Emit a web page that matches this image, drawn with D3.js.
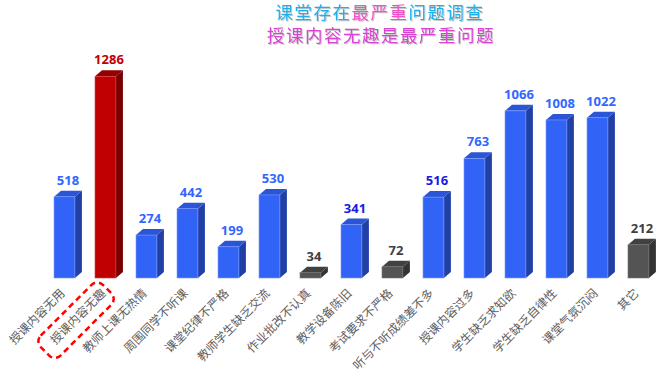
<!DOCTYPE html>
<html>
<head>
<meta charset="utf-8">
<script src="https://cdn.jsdelivr.net/npm/d3@7"></script>
<style>
  html, body { margin: 0; padding: 0; background: #fff; }
  svg { display: block; }
</style>
</head>
<body>
<svg id="chart"></svg>
<script>
// Survey: most serious problems in class
const categories = [
    '授课内容无用', '授课内容无趣', '教师上课无热情', '周围同学不听课', '课堂纪律不严格',
    '教师学生缺乏交流', '作业批改不认真', '教学设备陈旧', '考试要求不严格', '听与不听成绩差不多',
    '授课内容过多', '学生缺乏求知欲', '学生缺乏自律性', '课堂气氛沉闷', '其它'
];
const counts = [518, 1286, 274, 442, 199, 530, 34, 341, 72, 516, 763, 1066, 1008, 1022, 212];
// bar style group per category: 'blue' | 'red' | 'gray'
const groups = ['blue', 'red', 'blue', 'blue', 'blue', 'blue', 'gray', 'blue', 'gray', 'blue',
    'blue', 'blue', 'blue', 'blue', 'gray'];
// value label tone per category
const labelTones = ['light', 'red', 'light', 'light', 'light', 'light', 'gray', 'dark', 'gray', 'dark',
    'light', 'light', 'light', 'light', 'gray'];
const highlighted = '授课内容无趣';

const width = 661, height = 377;
const baseY = 278;
const depthX = 7, depthY = 6;

const palette = {
    blue: { front: '#3163f7', side: '#2140a6', top: '#2a55d6', edge: '#7f9cff' },
    red: { front: '#c00000', side: '#780000', top: '#940000', edge: '#d84040' },
    gray: { front: '#545454', side: '#333333', top: '#414141', edge: '#777777' }
};
const labelColors = { light: '#3366ff', dark: '#1a1ae6', red: '#c00000', gray: '#404040' };

const svg = d3.select('#chart')
    .attr('width', width)
    .attr('height', height);

const defs = svg.append('defs');
const shadow = defs.append('filter').attr('id', 'tshadow')
    .attr('x', '-10%').attr('y', '-20%').attr('width', '120%').attr('height', '150%');
shadow.append('feDropShadow')
    .attr('dx', 1).attr('dy', 1).attr('stdDeviation', 0.6)
    .attr('flood-color', '#888').attr('flood-opacity', 0.45);

// Scales
const x = d3.scaleBand()
    .domain(categories)
    .range([33.5, 669.4])
    .paddingInner(0.49)
    .paddingOuter(0.5);

const y = d3.scaleLinear()
    .domain([0, 1400])
    .range([baseY, 58.5]);

const bw = x.bandwidth();

// Title
const title = svg.append('g')
    .attr('filter', 'url(#tshadow)')
    .style('font-family', '"Noto Sans CJK SC", sans-serif')
    .style('font-size', '17.5px')
    .style('letter-spacing', '1.5px');

const t1 = title.append('text')
    .attr('x', 380)
    .attr('y', 19)
    .attr('text-anchor', 'middle');
t1.append('tspan').attr('fill', '#1fb1ec').text('课堂存在');
t1.append('tspan').attr('fill', '#f052c8').text('最严重');
t1.append('tspan').attr('fill', '#1fb1ec').text('问题调查');

title.append('text')
    .attr('x', 381)
    .attr('y', 42)
    .attr('text-anchor', 'middle')
    .attr('fill', '#d945d2')
    .text('授课内容无趣是最严重问题');

// Bars
const data = categories.map((c, i) => ({ cat: c, value: counts[i], group: groups[i], tone: labelTones[i] }));

const bars = svg.append('g').selectAll('g.bar')
    .data(data)
    .enter()
    .append('g')
    .attr('class', 'bar');

bars.append('polygon')
    .attr('fill', d => palette[d.group].side)
    .attr('points', d => {
        const x0 = x(d.cat) + bw, yt = y(d.value);
        return [[x0, yt], [x0 + depthX, yt - depthY], [x0 + depthX, baseY - depthY], [x0, baseY]].join(' ');
    });

bars.append('polygon')
    .attr('fill', d => palette[d.group].top)
    .attr('points', d => {
        const x0 = x(d.cat), yt = y(d.value);
        return [[x0, yt], [x0 + depthX, yt - depthY], [x0 + bw + depthX, yt - depthY], [x0 + bw, yt]].join(' ');
    });

bars.append('rect')
    .attr('x', d => x(d.cat))
    .attr('y', d => y(d.value))
    .attr('width', bw)
    .attr('height', d => baseY - y(d.value))
    .attr('fill', d => palette[d.group].front)
    .attr('stroke', d => palette[d.group].edge)
    .attr('stroke-width', 0.6);

// Value labels
bars.append('text')
    .attr('x', d => x(d.cat) + bw / 2 + depthX / 2)
    .attr('y', d => y(d.value) - depthY - 6)
    .attr('text-anchor', 'middle')
    .style('font-family', '"Open Sans", "Liberation Sans", sans-serif')
    .style('font-weight', 'bold')
    .style('font-size', '13px')
    .attr('fill', d => labelColors[d.tone])
    .text(d => d.value);

// Category labels (rotated)
const labels = svg.append('g').selectAll('g.cat')
    .data(categories)
    .enter()
    .append('g')
    .attr('class', 'cat')
    .attr('transform', d => `translate(${x(d) + bw / 2 + 1}, ${baseY + 16}) rotate(-45)`);

labels.append('text')
    .attr('text-anchor', 'end')
    .style('font-family', '"Noto Sans CJK SC", sans-serif')
    .style('font-size', '12px')
    .attr('fill', '#606060')
    .text(d => d);

// Dashed highlight box around the key category
labels.filter(d => d === highlighted)
    .append('rect')
    .attr('x', -84)
    .attr('y', -17)
    .attr('width', 88)
    .attr('height', 28)
    .attr('rx', 8)
    .attr('fill', 'none')
    .attr('stroke', '#ff0000')
    .attr('stroke-width', 2.5)
    .attr('stroke-dasharray', '6,4');
</script>
</body>
</html>
